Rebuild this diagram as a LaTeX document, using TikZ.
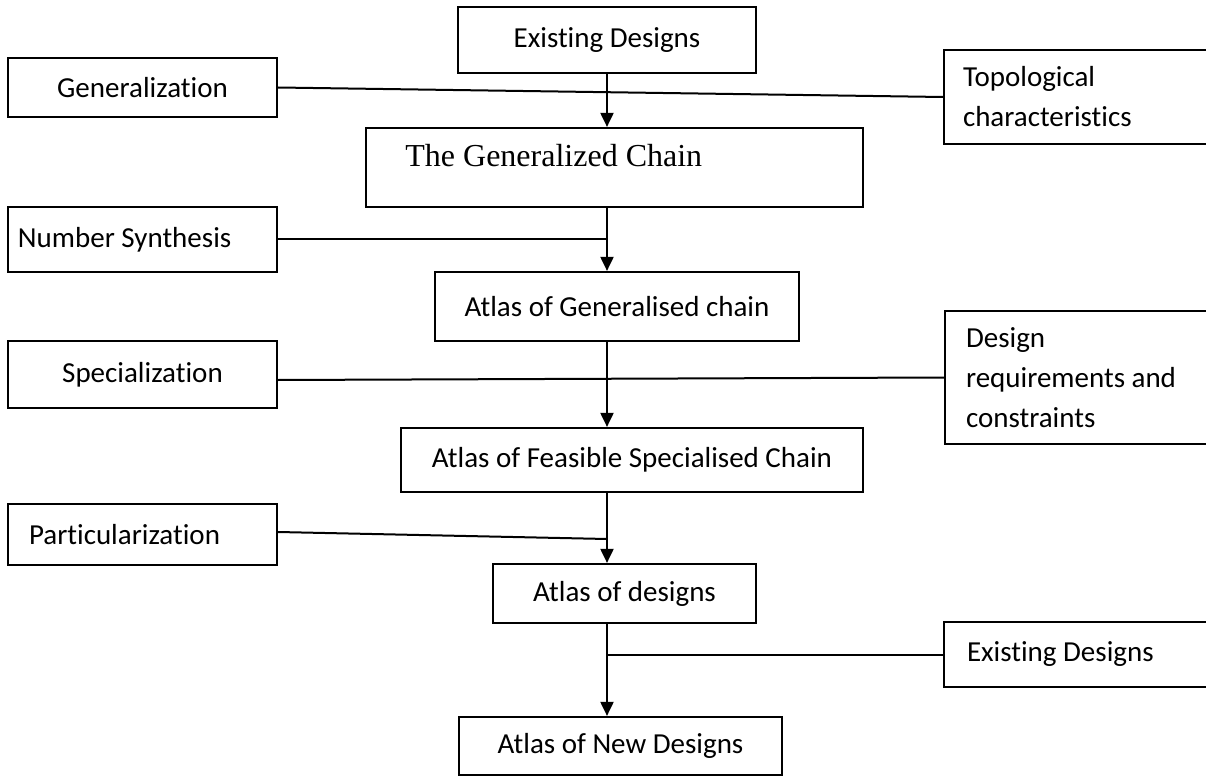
\documentclass[tikz,border=0pt]{standalone}
\usepackage{fontspec}
\setmainfont{Carlito}[Ligatures=NoCommon]
\newfontfamily\timesfont{Liberation Serif}
\usetikzlibrary{arrows.meta,positioning}

\begin{document}
\begin{tikzpicture}[x=0.5pt, y=-0.5pt,
    box/.style={draw, line width=1.1pt, inner sep=0pt, font=\fontsize{14.5}{20}\selectfont},
    leftbox/.style={box, align=flush left},
    link/.style={line width=1pt},
    flow/.style={link, -{Triangle[length=7pt,width=6.5pt]}}]
    \useasboundingbox (0,0) rectangle (1206,781);
    \clip (0,0) rectangle (1206,781);
    \coordinate (spine) at (607,0);

    \node [box, minimum width=149pt, minimum height=33pt] (exist) at (607,40) {Existing Designs};
    \node [box, minimum width=134.5pt, minimum height=29.5pt] (gen) at (142.5,87.5) {Generalization};
    \node [leftbox, minimum height=47pt, text width=117pt, inner xsep=9.5pt] (topo) at (1080,97) {Topological\\characteristics};
    \node [box, minimum width=248.5pt, minimum height=39.5pt] (chain) at (614.5,167.5) {};
    \node [anchor=base west, inner sep=0pt, font=\timesfont\fontsize{16}{19}\selectfont] (chaintext) at (405,167) {The Generalized Chain};
    \node [leftbox, minimum height=32.5pt, text width=124.5pt, inner xsep=5pt] (numsyn) at (142.5,239.5) {Number Synthesis};
    \node [box, minimum width=182pt, minimum height=34.5pt] (agen) at (617,306.5) {Atlas of Generalised chain};
    \node [box, minimum width=134.5pt, minimum height=33.5pt] (spec) at (142.5,374.5) {Specialization};
    \node [leftbox, minimum height=66.5pt, text width=114.5pt, inner xsep=10.5pt] (design) at (1080.5,377.5) {Design\\requirements and\\constraints};
    \node [box, minimum width=231pt, minimum height=32pt] (feas) at (632,460) {Atlas of Feasible Specialised Chain};
    \node [leftbox, minimum height=30.5pt, text width=113.5pt, inner xsep=10.5pt] (part) at (142.5,534.5) {Particularization};
    \node [box, minimum width=131.5pt, minimum height=29.5pt] (adesign) at (624.5,593.5) {Atlas of designs};
    \node [leftbox, minimum height=32.5pt, text width=113pt, inner xsep=11.5pt] (exist2) at (1080,654.5) {Existing Designs};
    \node [box, minimum width=161.5pt, minimum height=29pt] (anew) at (620.5,746) {Atlas of New Designs};
    \coordinate (partjoin) at (607,539);

    \draw [flow] (exist.south) -- (spine |- chain.north);
    \draw [flow] (spine |- chain.south) -- (spine |- agen.north);
    \draw [flow] (spine |- agen.south) -- (spine |- feas.north);
    \draw [flow] (spine |- feas.south) -- (spine |- adesign.north);
    \draw [flow] (spine |- adesign.south) -- (spine |- anew.north);
    \draw [link] (gen.east) -- (topo.west);
    \draw [link] (numsyn.east) -- (spine |- numsyn.east);
    \draw [link] ([yshift=-2.75pt]spec.east) -- (design.west);
    \draw [link] ([yshift=1.25pt]part.east) -- (partjoin);
    \draw [link] (exist2.west) -- (spine |- exist2.west);
\end{tikzpicture}
\end{document}
